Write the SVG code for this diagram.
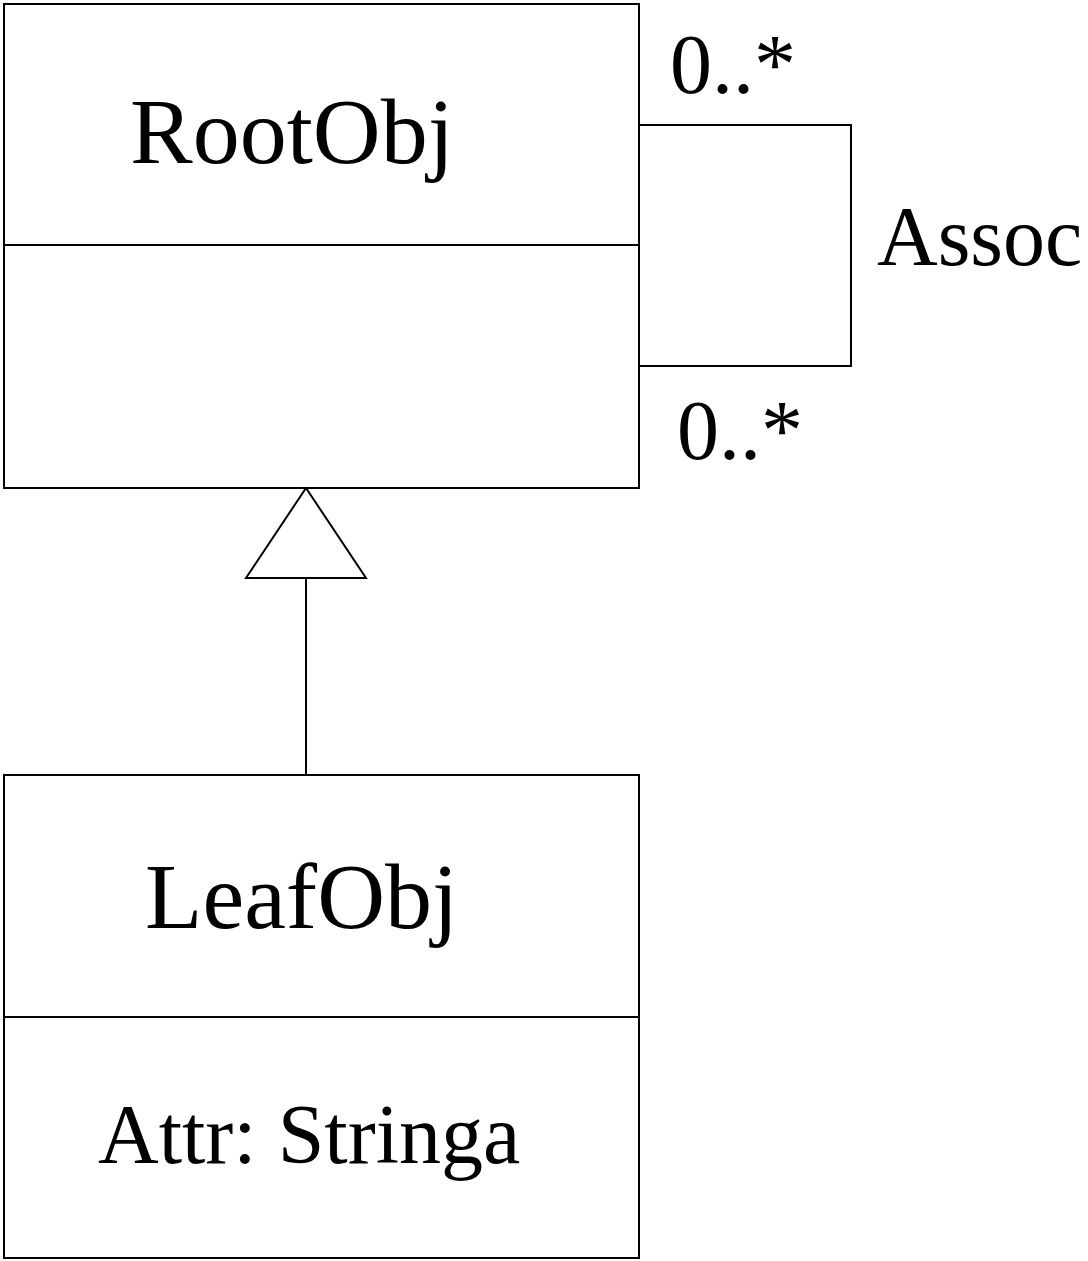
<svg xmlns="http://www.w3.org/2000/svg" width="1088" height="1261" viewBox="0 0 1088 1261">
  <style>
    .box { fill: #ffffff; stroke: #000000; stroke-width: 2; }
    .line { fill: none; stroke: #000000; stroke-width: 2; }
    .title { font-family: "Liberation Serif", "Times New Roman", serif; font-size: 94px; fill: #000000; }
    .label { font-family: "Liberation Serif", "Times New Roman", serif; font-size: 84px; fill: #000000; }
  </style>
  <rect width="1088" height="1261" fill="#ffffff"/>

  <g id="connectors">
    <!-- self association on RootObj -->
    <polyline class="line" points="639,125 851,125 851,366 639,366"/>
    <!-- generalization LeafObj -> RootObj -->
    <line class="line" x1="306" y1="578" x2="306" y2="775"/>
    <polygon class="box" points="306,488 366,578 246,578"/>
    <text class="label" x="670" y="93">0..*</text>
    <text class="label" x="877" y="265">Assoc</text>
    <text class="label" x="677" y="459">0..*</text>
  </g>

  <g id="RootObj">
    <rect class="box" x="4" y="4" width="635" height="484"/>
    <line class="line" x1="4" y1="245" x2="639" y2="245"/>
    <text class="title" x="130" y="163">RootObj</text>
  </g>

  <g id="LeafObj">
    <rect class="box" x="4" y="775" width="635" height="483"/>
    <line class="line" x1="4" y1="1017" x2="639" y2="1017"/>
    <text class="title" x="145" y="928">LeafObj</text>
    <text class="label" x="98" y="1163">Attr: Stringa</text>
  </g>
</svg>
